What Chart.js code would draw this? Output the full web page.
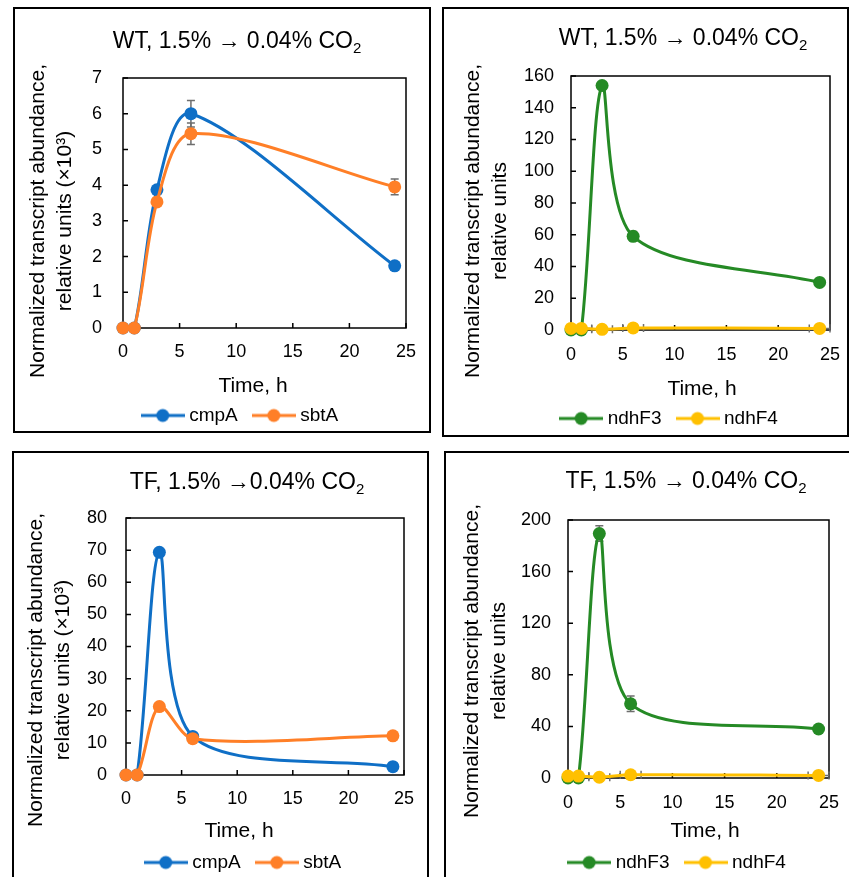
<!DOCTYPE html>
<html>
<head>
<meta charset="utf-8">
<script src="https://cdn.jsdelivr.net/npm/chart.js@4.4.1/dist/chart.umd.min.js"></script>
<style>
  body { margin: 0; width: 849px; height: 877px; overflow: hidden; background: #fff; position: relative;
         font-family: "Liberation Sans", Arial, sans-serif; color: #000; }
  .panel { position: absolute; border: 2px solid #000; box-sizing: border-box; }
  canvas { position: absolute; }
  .title { position: absolute; font-size: 23px; line-height: 23px; white-space: nowrap; transform: translateX(-50%); }
  .title sub { font-size: 15px; vertical-align: -5px; line-height: 0; }
  .xtitle { position: absolute; font-size: 21px; line-height: 21px; white-space: nowrap; transform: translateX(-50%); }
  .ytitle { position: absolute; font-size: 21px; line-height: 27px; white-space: nowrap; text-align: center;
            transform: translate(-50%, -50%) rotate(-90deg); }
</style>
</head>
<body>
<div class="panel" style="left:13px;top:7px;width:418px;height:426px"></div>
<div class="panel" style="left:442px;top:7px;width:407px;height:430px"></div>
<div class="panel" style="left:12px;top:451px;width:417px;height:440px"></div>
<div class="panel" style="left:444px;top:451px;width:410px;height:440px"></div>

<canvas id="wtCmp"></canvas>
<canvas id="wtNdh"></canvas>
<canvas id="tfCmp"></canvas>
<canvas id="tfNdh"></canvas>

<div class="title" style="left:237px;top:28.5px">WT, 1.5% → 0.04% CO<sub>2</sub></div>
<div class="title" style="left:683px;top:25.5px">WT, 1.5% → 0.04% CO<sub>2</sub></div>
<div class="title" style="left:247px;top:469.5px">TF, 1.5% →0.04% CO<sub>2</sub></div>
<div class="title" style="left:686px;top:468.5px">TF, 1.5% → 0.04% CO<sub>2</sub></div>

<div class="ytitle" style="left:49.5px;top:221px">Normalized transcript abundance,<br>relative units (×10³)</div>
<div class="ytitle" style="left:485px;top:221px">Normalized transcript abundance,<br>relative units</div>
<div class="ytitle" style="left:47.5px;top:670px">Normalized transcript abundance,<br>relative units (×10³)</div>
<div class="ytitle" style="left:483.5px;top:661px">Normalized transcript abundance,<br>relative units</div>

<div class="xtitle" style="left:253px;top:374px">Time, h</div>
<div class="xtitle" style="left:702px;top:377px">Time, h</div>
<div class="xtitle" style="left:239px;top:819px">Time, h</div>
<div class="xtitle" style="left:705px;top:819px">Time, h</div>

<script>
// sampling times (h)
const hours = [0, 1, 3, 6, 24];
const xTickValues = [0, 5, 10, 15, 20, 25];

// WT, cmpA / sbtA (x10^3)
const wtCmpA = [0, 0, 3.87, 6.0, 1.74];
const wtCmpAErr = [0, 0, 0.1, 0.37, 0.1];
const wtSbtA = [0, 0, 3.53, 5.44, 3.95];
const wtSbtAErr = [0, 0, 0.08, 0.3, 0.22];
const wtCmpTicks = [0, 1, 2, 3, 4, 5, 6, 7];

// WT, ndhF3 / ndhF4
const wtNdhF3 = [0, 0, 154, 59, 30];
const wtNdhF3Err = [0, 0, 2, 3, 1.5];
const wtNdhF4 = [1, 1, 0.4, 1.3, 1];
const wtNdhTicks = [0, 20, 40, 60, 80, 100, 120, 140, 160];

// TF, cmpA / sbtA (x10^3)
const tfCmpA = [0, 0, 69.3, 12.0, 2.6];
const tfCmpAErr = [0, 0, 0.8, 0.8, 0.3];
const tfSbtA = [0, 0, 21.3, 11.3, 12.2];
const tfSbtAErr = [0, 0, 0.6, 0.5, 0.4];
const tfCmpTicks = [0, 10, 20, 30, 40, 50, 60, 70, 80];

// TF, ndhF3 / ndhF4
const tfNdhF3 = [0, 0, 189.5, 57.5, 38];
const tfNdhF3Err = [0, 0, 6, 6, 1.5];
const tfNdhF4 = [1.5, 1.5, 0.6, 2.5, 2];
const tfNdhTicks = [0, 40, 80, 120, 160, 200];

// ndhF4 points carry a +-1 h horizontal bar
const ndhF4TimeErr = [1, 1, 1, 1, 1];

const BLUE = "#0f6fc6";
const ORANGE = "#ff7f27";
const GREEN = "#258a25";
const YELLOW = "#ffc000";
const ERR = "#6e6e6e";
const FONT = "'Liberation Sans', Arial, sans-serif";
const LEGEND_FONT = 19;
const LEGEND_PAD = 19;
const Y_AXIS_W = 60; // room for the y tick labels
const RIGHT_PAD = 26; // room for the "25" label

Chart.defaults.font.family = FONT;
Chart.defaults.color = "#000";

const markerImage = (color) => {
  const c = document.createElement("canvas");
  c.width = 44;
  c.height = 16;
  const g = c.getContext("2d");
  g.strokeStyle = color;
  g.fillStyle = color;
  g.lineWidth = 3;
  g.beginPath();
  g.moveTo(0, 8);
  g.lineTo(44, 8);
  g.stroke();
  g.beginPath();
  g.arc(22, 8, 6.5, 0, Math.PI * 2);
  g.fill();
  return c;
};

const series = (label, color, values, yErr, xErr, order) => ({
  label,
  data: hours.map((h, i) => ({ x: h, y: values[i] })),
  borderColor: color,
  backgroundColor: color,
  pointBackgroundColor: color,
  pointBorderColor: color,
  pointBorderWidth: 0,
  pointRadius: 6.5,
  borderWidth: 3,
  tension: 0.3,
  clip: false,
  yErr,
  xErr,
  order,
});

// error bars sit under the markers, as in the source figure
const drawBars = (chart, key) => {
  const { ctx, chartArea: a, scales: { x, y } } = chart;
  ctx.save();
  ctx.strokeStyle = ERR;
  ctx.lineWidth = 1.5;
  chart.data.datasets.forEach((ds) => {
    const err = ds[key];
    if (!err) return;
    ds.data.forEach((pt, i) => {
      if (!err[i]) return;
      const px = x.getPixelForValue(pt.x);
      const py = y.getPixelForValue(pt.y);
      ctx.beginPath();
      if (key === "yErr") {
        const top = y.getPixelForValue(pt.y + err[i]);
        const bot = y.getPixelForValue(pt.y - err[i]);
        ctx.moveTo(px, top); ctx.lineTo(px, bot);
        ctx.moveTo(px - 4, top); ctx.lineTo(px + 4, top);
        ctx.moveTo(px - 4, bot); ctx.lineTo(px + 4, bot);
      } else {
        const l = x.getPixelForValue(pt.x - err[i]);
        const r = x.getPixelForValue(pt.x + err[i]);
        ctx.moveTo(Math.max(l, a.left), py); ctx.lineTo(Math.min(r, a.right), py);
        if (l >= a.left) { ctx.moveTo(l, py - 4); ctx.lineTo(l, py + 4); }
        if (r <= a.right) { ctx.moveTo(r, py - 4); ctx.lineTo(r, py + 4); }
      }
      ctx.stroke();
    });
  });
  ctx.restore();
};

// box round the plot area with ticks pointing inwards
const framePlugin = {
  id: "frame",
  beforeDatasetsDraw(chart) {
    const { ctx, chartArea: a, scales: { x, y } } = chart;
    ctx.save();
    ctx.strokeStyle = "#000";
    ctx.lineWidth = 1.5;
    ctx.strokeRect(a.left, a.top, a.right - a.left, a.bottom - a.top);
    ctx.beginPath();
    y.ticks.forEach((t) => {
      const py = y.getPixelForValue(t.value);
      ctx.moveTo(a.left, py);
      ctx.lineTo(a.left + 5, py);
    });
    x.ticks.forEach((t) => {
      const px = x.getPixelForValue(t.value);
      ctx.moveTo(px, a.bottom);
      ctx.lineTo(px, a.bottom - 5);
    });
    ctx.stroke();
    ctx.restore();
    drawBars(chart, "xErr");
    drawBars(chart, "yErr");
  },
};

const generateLabels = (chart) =>
  chart.data.datasets.map((ds, i) => ({
    text: ds.label,
    pointStyle: markerImage(ds.borderColor),
    fillStyle: ds.borderColor,
    strokeStyle: ds.borderColor,
    lineWidth: 0,
    hidden: false,
    datasetIndex: i,
  }));

// page positions: canvas corner, plot area edges, legend centre
const panels = [
  { id: "wtCmp", x: 15, y: 9, h: 426, left: 123, right: 406, top: 78, bottom: 328, legendX: 242, xPad: 13, yPad: 21,
    ticks: wtCmpTicks,
    datasets: [series("cmpA", BLUE, wtCmpA, wtCmpAErr, null, 1), series("sbtA", ORANGE, wtSbtA, wtSbtAErr, null, 0)] },
  { id: "wtNdh", x: 445, y: 9, h: 429, left: 571, right: 830, top: 76, bottom: 330, legendX: 671, xPad: 14, yPad: 17,
    ticks: wtNdhTicks,
    datasets: [series("ndhF3", GREEN, wtNdhF3, wtNdhF3Err, null, 1), series("ndhF4", YELLOW, wtNdhF4, null, ndhF4TimeErr, 0)] },
  { id: "tfCmp", x: 15, y: 454, h: 428, left: 126, right: 404, top: 518, bottom: 775, legendX: 245, xPad: 13, yPad: 19,
    ticks: tfCmpTicks,
    datasets: [series("cmpA", BLUE, tfCmpA, tfCmpAErr, null, 1), series("sbtA", ORANGE, tfSbtA, tfSbtAErr, null, 0)] },
  { id: "tfNdh", x: 447, y: 454, h: 428, left: 568, right: 829, top: 520, bottom: 778, legendX: 679, xPad: 14, yPad: 17,
    ticks: tfNdhTicks,
    datasets: [series("ndhF3", GREEN, tfNdhF3, tfNdhF3Err, null, 1), series("ndhF4", YELLOW, tfNdhF4, null, ndhF4TimeErr, 0)] },
];

const drawPanel = (p) => {
  const legendH = LEGEND_FONT + LEGEND_PAD + 10;
  const padLeft = (p.left - p.x) - Y_AXIS_W;
  // legend is centred between padLeft and width - RIGHT_PAD
  const width = 2 * (p.legendX - p.x) - padLeft + RIGHT_PAD;
  const spacer = (width - RIGHT_PAD) - (p.right - p.x);

  const canvas = document.getElementById(p.id);
  canvas.width = width;
  canvas.height = p.h;
  canvas.style.left = p.x + "px";
  canvas.style.top = p.y + "px";

  new Chart(canvas, {
    type: "line",
    data: { datasets: p.datasets },
    options: {
      responsive: false,
      animation: false,
      events: [],
      layout: { padding: { left: padLeft, top: p.top - p.y, right: RIGHT_PAD, bottom: 0 } },
      plugins: {
        title: { display: false },
        tooltip: { enabled: false },
        legend: {
          position: "bottom",
          labels: {
            usePointStyle: true,
            pointStyleWidth: 34,
            padding: LEGEND_PAD,
            color: "#000",
            font: { size: LEGEND_FONT, family: FONT },
            generateLabels,
          },
        },
      },
      scales: {
        x: {
          type: "linear",
          min: xTickValues[0],
          max: xTickValues[xTickValues.length - 1],
          grid: { display: false, drawTicks: false },
          border: { display: false },
          ticks: { color: "#000", padding: p.xPad, autoSkip: false, maxRotation: 0, font: { size: 18 } },
          afterBuildTicks: (s) => { s.ticks = xTickValues.map((v) => ({ value: v })); },
          afterFit: (s) => { s.height = (p.h - legendH) - (p.bottom - p.y); },
        },
        y: {
          min: p.ticks[0],
          max: p.ticks[p.ticks.length - 1],
          grid: { display: false, drawTicks: false },
          border: { display: false },
          ticks: { color: "#000", padding: p.yPad, autoSkip: false, font: { size: 18 } },
          afterBuildTicks: (s) => { s.ticks = p.ticks.map((v) => ({ value: v })); },
          afterFit: (s) => { s.width = Y_AXIS_W; },
        },
        // empty box on the right, only used to shift the legend centre
        spacer: {
          type: "linear",
          position: "right",
          display: true,
          grid: { display: false, drawTicks: false },
          border: { display: false },
          ticks: { display: false },
          afterFit: (s) => { s.width = spacer; },
        },
      },
    },
    plugins: [framePlugin],
  });
};

panels.forEach(drawPanel);
</script>
</body>
</html>
